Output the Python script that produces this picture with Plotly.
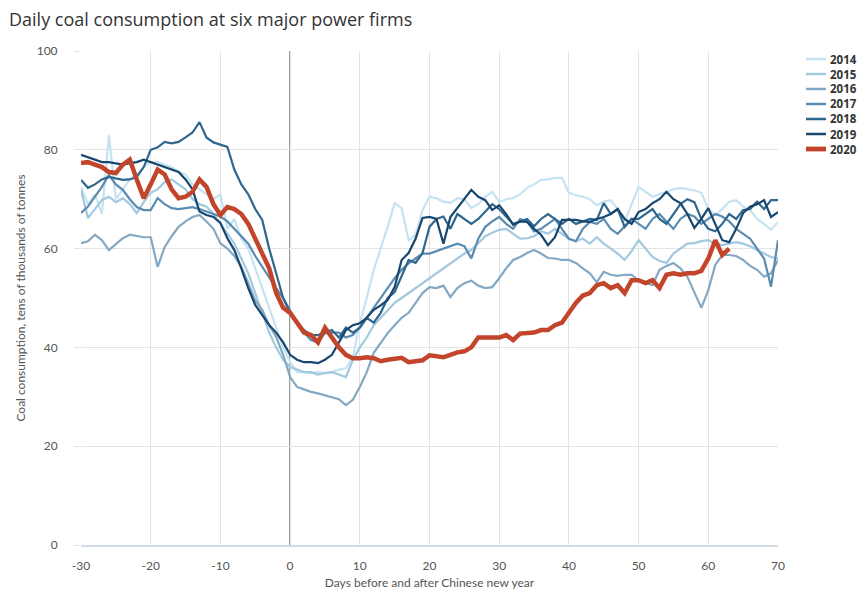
import plotly.graph_objects as go

days = list(range(-30, 71))
days_2020 = list(range(-30, 64))
x_ticks = [-30, -20, -10, 0, 10, 20, 30, 40, 50, 60, 70]
y_ticks = [0, 20, 40, 60, 80, 100]

v2014 = [72.5, 69, 71, 67, 83, 70, 72, 74, 75, 76.5,
         77.5, 77.5, 77, 76.5, 75.5, 75, 73, 72, 71, 70,
         71, 64, 66, 62, 60, 56, 52, 48, 44, 40,
         37, 35, 35, 34.8, 35, 34.8, 35, 35.5, 35.8, 38,
         45, 50, 55.7, 60, 64.4, 69.2, 68.2, 61.7, 62.8, 67.8,
         70.5, 70.2, 69.5, 69.2, 70.2, 70, 68.2, 69, 70.5, 71.5,
         69.4, 70, 70.2, 71, 72.3, 73, 73.9, 74, 74.3, 74.3,
         71.3, 70.8, 70.5, 70, 68.8, 69.5, 69.8, 68, 65.4, 69,
         72.5, 71.5, 70.5, 71, 71.5, 72, 72.3, 72, 71.8, 71.3,
         68, 66.8, 68, 69.5, 69.8, 68.5, 67.8, 66, 65, 63.8,
         65.4]
v2015 = [71.9, 66.2, 68, 69.8, 70.5, 69.4, 70.2, 69, 67.2, 69.4,
         71.3, 72, 73.5, 74, 73, 72, 70, 69, 68.5, 67,
         65, 63, 61, 58, 55, 51, 47, 43, 40, 37.5,
         36, 35.5, 35, 35, 34.5, 34.8, 35, 34.5, 34, 37.4,
         40, 42, 44.5, 46, 47.5, 49, 50, 51, 52, 53,
         54, 55, 56, 57, 58, 59, 59.7, 61, 62.5, 63.2,
         63.8, 64, 63, 62, 62.1, 62.5, 63.5, 63, 64, 63,
         62, 61.5, 62, 61, 62.3, 61, 60, 59, 57.7, 59.5,
         61.7, 60, 58.3, 57.5, 57.1, 59, 60, 61, 61.1, 61.5,
         61.7, 61, 60.7, 61, 61.3, 61, 60.5, 59.7, 59, 58.3,
         58]
v2016 = [61.1, 61.5, 62.8, 61.7, 59.7, 61, 62.1, 62.8, 62.5, 62.3,
         62.3, 56.3, 60.3, 62.5, 64.4, 65.5, 66.4, 66.8, 65.5, 64,
         61.1, 60, 58.5, 56.3, 53, 49.5, 47.6, 44.5, 42.1, 38.5,
         34, 32, 31.5, 31, 30.7, 30.3, 29.8, 29.5, 28.3, 29.4,
         32, 35, 38.9, 41, 42.9, 44.5, 46, 47, 49, 51,
         52.2, 52, 52.5, 50.2, 52, 53, 53.5, 52.5, 52, 52.2,
         54, 56, 57.7, 58.3, 59.1, 59.7, 59, 58.1, 58, 57.7,
         57.7, 57.1, 56, 55, 53.2, 55.3, 54.7, 54.5, 54.7, 54.7,
         53.5, 53, 52.6, 55.7, 56.5, 57.1, 56, 54.3, 51, 48,
         51.6, 56.7, 58.7, 58.7, 58.5, 57.7, 56.5, 55.7, 54.3, 55,
         57.7]
v2017 = [67.2, 68.5, 70.5, 72.5, 74.9, 73, 71.9, 70, 68.4, 67.8,
         67.8, 70.2, 69, 68.2, 68, 68.2, 68.4, 68, 67.5, 67,
         66.5, 65.5, 64, 62.5, 61, 58.5, 56.3, 54, 52, 50,
         47.6, 45, 43, 41.5, 41, 42.9, 43, 43, 42, 42.5,
         44, 46, 48, 50, 52, 54, 55.7, 57, 58, 59,
         59, 59.5, 60, 60.5, 61, 60.5, 58, 62, 64.4, 65.5,
         66.4, 65, 64, 66, 65.5, 63.5, 64, 65, 66, 64,
         62, 61.5, 64, 65.4, 65, 66, 64, 63, 64.5, 66,
         65, 64, 66, 67, 65.5, 64, 66, 67, 66.5, 65,
         66, 67, 66.5, 65.5, 64, 63, 62, 60, 58, 52.3,
         61.7]
v2018 = [73.9, 72.3, 73, 74, 74.5, 74.2, 73.9, 74, 74.5, 76.5,
         80, 80.5, 81.6, 81.3, 81.6, 82.5, 83.5, 85.6, 82.5, 81.5,
         81, 80.6, 76, 73, 71, 68, 65.8, 60, 55, 50,
         47, 45, 43.5, 42.5, 42.5, 43, 43.5, 42, 44, 43,
         44, 46, 45, 47, 50, 51.2, 54.3, 57.7, 57.1, 59.1,
         64.4, 66, 66.5, 64, 67, 66, 65, 66, 67.5, 69,
         68, 66.5, 65, 65.5, 66, 64.5, 66, 67, 66, 65,
         66, 65, 65.5, 66, 65.8, 69.2, 67, 68, 64.4, 66,
         66, 67, 68, 66, 65, 67, 69, 70, 69.4, 66,
         64, 63.5, 65, 67, 66, 67.8, 68, 69.5, 68, 69.8,
         69.8]
v2019 = [79, 78.5, 78, 77.5, 77.5, 77.3, 77, 77.3, 77.5, 78,
         77.5, 77, 76.5, 76, 75.5, 74, 72, 67.5, 66.8, 66.4,
         65.2, 62.1, 59.7, 56, 52, 48.6, 46.5, 44.5, 43, 41,
         38.5, 37.5, 37, 37, 36.8, 37.5, 38.5, 40.9, 43.5, 44.5,
         44.9, 46, 47.6, 48.5, 49.6, 52.2, 57.7, 59.1, 62, 66.2,
         66.4, 66, 61, 66.4, 68.2, 70, 71.9, 70.5, 69.8, 67.8,
         68.8, 67, 64.8, 65.5, 65.4, 64, 62.8, 60.7, 62.3, 65.8,
         65.8, 65.8, 65.5, 65.4, 66, 66.4, 67, 68, 66, 65,
         67.4, 68, 69.2, 70, 71.5, 70, 69.2, 67, 64.2, 66,
         68.2, 65, 61.7, 61.3, 64, 67.2, 68.5, 69, 69.8, 66.4,
         67.4]
v2020 = [77.3, 77.5, 77, 76.5, 75.5, 75.3, 77, 78, 74, 70.2,
         73, 76, 75, 72, 70.2, 70.5, 71.5, 74, 72.5, 69,
         66.8, 68.4, 68, 67, 65, 62, 59, 56, 51, 48,
         47, 45, 43, 42.5, 41, 44, 42, 40, 38.5, 37.8,
         37.8, 38, 37.8, 37.2, 37.5, 37.8, 37.9, 37, 37.2, 37.4,
         38.4, 38.2, 38, 38.5, 39, 39.2, 40, 42, 42, 42,
         42, 42.5, 41.5, 42.8, 42.8, 43, 43.5, 43.5, 44.5, 45,
         47, 49, 50.5, 51, 52.6, 53, 52, 52.6, 51, 53.6,
         53.6, 53, 53.6, 52, 54.7, 55, 54.7, 55, 55, 55.5,
         58, 61.7, 58.7, 60]

series = [
    ("2014", days, v2014, "#c6e3f1", 2.2),
    ("2015", days, v2015, "#a3c9de", 2.2),
    ("2016", days, v2016, "#82a8c3", 2.2),
    ("2017", days, v2017, "#5a8cb1", 2.2),
    ("2018", days, v2018, "#30678f", 2.2),
    ("2019", days, v2019, "#17466e", 2.2),
    ("2020", days_2020, v2020, "#c2452b", 4.5),
]

W, H = 862, 590
ML, MR, MT, MB = 81, 0, 51, 45
paper_w = W - ML - MR
plot_right = 778

fig = go.Figure()
for name, xs, ys, color, w in series:
    fig.add_trace(go.Scatter(x=xs, y=ys, mode="lines", name=name,
                             line=dict(color=color, width=w), showlegend=False))

fig.add_shape(type="line", x0=0, x1=0, y0=0, y1=100, xref="x", yref="y",
              line=dict(color="#666666", width=1.5), layer="below")

# legend drawn as key lines + labels (pixel layout converted to paper fractions)
leg_top, leg_step = 59, 15
for i, (name, xs, ys, color, w) in enumerate(series):
    yc = leg_top + i * leg_step
    yp = 1 - (yc - MT) / (H - MT - MB)
    fig.add_shape(type="line", xref="paper", yref="paper",
                  x0=(806 - ML) / paper_w, x1=(826 - ML) / paper_w, y0=yp, y1=yp,
                  line=dict(color=color, width=w + 0.3))
    fig.add_annotation(text="<b>" + name + "</b>", xref="paper", yref="paper",
                       x=(829 - ML) / paper_w, y=yp, xanchor="left", yanchor="middle",
                       showarrow=False, borderpad=0,
                       font=dict(size=11.5, color="#333333", family="'Open Sans', sans-serif"))

fig.update_layout(
    width=W, height=H,
    margin=dict(l=ML, r=MR, t=MT, b=MB, autoexpand=False),
    paper_bgcolor="white", plot_bgcolor="white",
    font=dict(family="Lato, 'Open Sans', sans-serif", color="#555555", size=12),
    title=dict(text="Daily coal consumption at six major power firms",
               x=9 / W, xanchor="left", xref="container",
               y=1 - 20 / H, yanchor="middle", yref="container",
               pad=dict(l=0, r=0, t=0, b=0),
               font=dict(family="'Open Sans', sans-serif", size=18, color="#333333")),
    showlegend=False,
    xaxis=dict(domain=[0, (plot_right - ML) / paper_w],
               range=[-30, 70], tickvals=x_ticks, ticktext=[str(t) for t in x_ticks],
               automargin=False,
               showgrid=True, gridcolor="#e3e3e3", gridwidth=1.2, zeroline=False,
               showline=True, linecolor="#d3dce6", linewidth=1.5,
               ticks="", ticklabelstandoff=9, tickfont=dict(size=12, color="#555555"),
               title=dict(text="Days before and after Chinese new year",
                          font=dict(size=12, color="#555555"), standoff=12)),
    yaxis=dict(range=[0, 100], tickvals=y_ticks,
               automargin=False,
               showgrid=True, gridcolor="#e3e3e3", gridwidth=1.2, zeroline=False,
               ticks="outside", ticklen=6, tickcolor="#e3e3e3",
               ticklabelstandoff=14,
               tickfont=dict(size=12, color="#555555"),
               title=dict(text="Coal consumption, tens of thousands of tonnes",
                          font=dict(size=12, color="#555555"), standoff=8)),
)

fig.write_html("out.html", config={"displayModeBar": False},
               post_script="document.body.style.margin='0';")
